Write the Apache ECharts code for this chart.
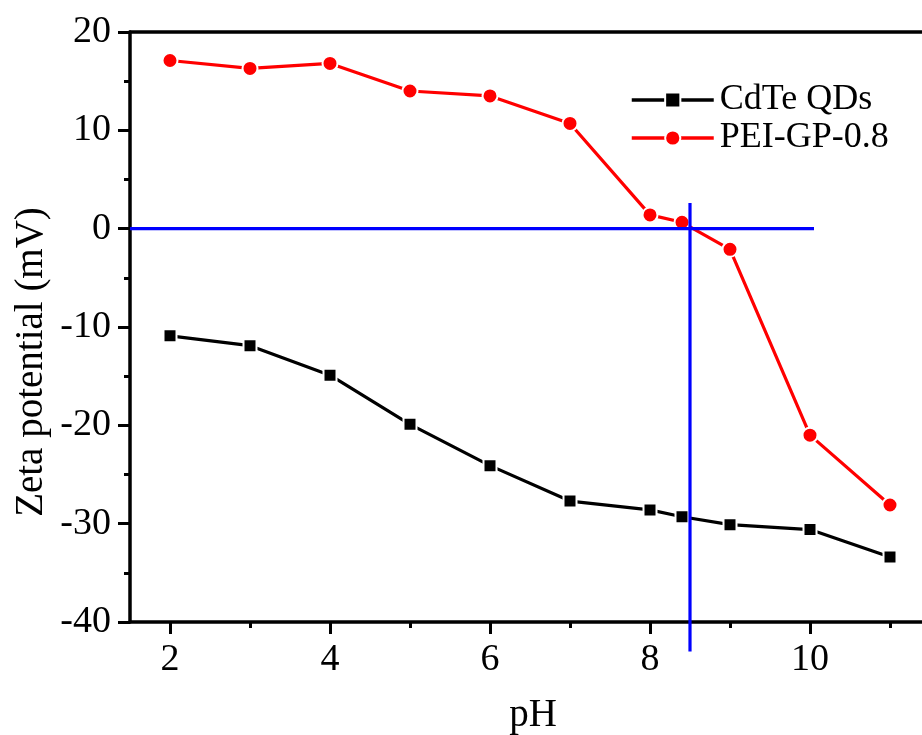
<!DOCTYPE html>
<html>
<head>
<meta charset="utf-8">
<script src="https://cdn.jsdelivr.net/npm/echarts@6/dist/echarts.min.js"></script>
<style>
  html, body { margin: 0; padding: 0; background: #fff; }
  #chart { width: 922px; height: 735px; }
</style>
</head>
<body>
<div id="chart"></div>
<script>
// Zeta potential vs pH
const pH = [2, 3, 4, 5, 6, 7, 8, 8.4, 9, 10, 11];
const cdteQDs = [-10.9, -11.9, -14.9, -19.9, -24.1, -27.7, -28.6, -29.3, -30.1, -30.6, -33.4];
const peiGP = [17.1, 16.3, 16.8, 14.0, 13.5, 10.7, 1.4, 0.65, -2.1, -21.0, -28.1];
const seriesNames = ['CdTe QDs', 'PEI-GP-0.8'];

// Reference guides: zero line and isoelectric-point marker
const zeroLine = [[1.5, 0], [10.05, 0]];
const pzcLine = [[8.5, 2.6], [8.5, -43]];

const xMajorTicks = [2, 4, 6, 8, 10];
const xMinorTicks = [3, 5, 7, 9, 11];

const FONT = '"Liberation Serif", "Times New Roman", serif';
const AXIS_W = 3.5;

const chart = echarts.init(document.getElementById('chart'));

const pairs = (xs, ys) => xs.map((x, i) => [x, ys[i]]);

chart.setOption({
  animation: false,
  backgroundColor: '#ffffff',
  grid: { left: 130, right: 0, top: 32, bottom: 113, containLabel: false },
  legend: {
    orient: 'vertical',
    left: 630,
    top: 82,
    itemWidth: 82,
    itemHeight: 19,
    itemGap: 2,
    padding: 0,
    data: seriesNames,
    lineStyle: { width: 3.5 },
    textStyle: { fontFamily: FONT, fontSize: 36, color: '#000', padding: [0, 0, 0, 1], lineHeight: 36 }
  },
  xAxis: [
    {
      type: 'value', position: 'bottom', min: 1.5, max: 11.4,
      axisLine: { show: true, onZero: false, lineStyle: { color: '#000', width: AXIS_W } },
      axisTick: { show: true, customValues: xMajorTicks, length: 12, inside: false, lineStyle: { color: '#000', width: 3 } },
      axisLabel: { show: true, customValues: xMajorTicks, margin: 19, fontFamily: FONT, fontSize: 38, color: '#000' },
      splitLine: { show: false }
    },
    {
      type: 'value', position: 'bottom', min: 1.5, max: 11.4,
      axisLine: { show: false, onZero: false },
      axisTick: { show: true, customValues: xMinorTicks, length: 6, inside: false, lineStyle: { color: '#000', width: 3 } },
      axisLabel: { show: false },
      splitLine: { show: false }
    },
    {
      type: 'value', position: 'top', min: 1.5, max: 11.4,
      axisLine: { show: true, onZero: false, lineStyle: { color: '#000', width: AXIS_W } },
      axisTick: { show: false },
      axisLabel: { show: false },
      splitLine: { show: false }
    }
  ],
  yAxis: {
    type: 'value', min: -40, max: 20, interval: 10,
    axisLine: { show: true, onZero: false, lineStyle: { color: '#000', width: AXIS_W } },
    axisTick: { show: true, length: 12, inside: false, lineStyle: { color: '#000', width: 3 } },
    minorTick: { show: true, splitNumber: 2, length: 6, lineStyle: { color: '#000', width: 3 } },
    axisLabel: { margin: 19, fontFamily: FONT, fontSize: 38, color: '#000' },
    splitLine: { show: false }
  },
  graphic: [
    {
      type: 'text', x: 32, y: 362, rotation: Math.PI / 2,
      style: {
        text: 'Zeta potential (mV)', fill: '#000',
        font: '39px ' + FONT, textAlign: 'center', textVerticalAlign: 'middle'
      }
    },
    {
      type: 'text', x: 533, y: 716,
      style: {
        text: 'pH', fill: '#000',
        font: '39px ' + FONT, textAlign: 'center', textVerticalAlign: 'middle'
      }
    }
  ],
  series: [
    {
      name: seriesNames[0], type: 'line', xAxisIndex: 0,
      data: pairs(pH, cdteQDs),
      symbol: 'rect', symbolSize: 13,
      lineStyle: { color: '#000', width: 3.2 },
      itemStyle: { color: '#000', borderColor: '#fff', borderWidth: 2 },
      z: 3
    },
    {
      name: seriesNames[1], type: 'line', xAxisIndex: 0,
      data: pairs(pH, peiGP),
      symbol: 'circle', symbolSize: 15,
      lineStyle: { color: '#ff0000', width: 3.2 },
      itemStyle: { color: '#ff0000', borderColor: '#fff', borderWidth: 2 },
      z: 3
    },
    {
      name: 'zero', type: 'line', xAxisIndex: 0, data: zeroLine,
      symbol: 'none', silent: true, clip: false,
      lineStyle: { color: '#0000ff', width: 3.2 }, z: 4
    },
    {
      name: 'pzc', type: 'line', xAxisIndex: 0, data: pzcLine,
      symbol: 'none', silent: true, clip: false,
      lineStyle: { color: '#0000ff', width: 3.2 }, z: 4
    }
  ]
});
</script>
</body>
</html>
